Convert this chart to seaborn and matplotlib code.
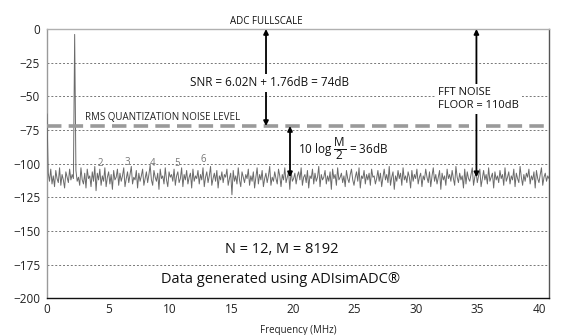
import numpy as np
import pandas as pd
import matplotlib
matplotlib.use("Agg")
import matplotlib.pyplot as plt
import seaborn as sns

# FFT output of a 12-bit ADC: one value per frequency bin (dBFS)
freq_max_mhz = 40.8
spectrum_db = [
    -63, -107, -113, -104, -115, -109, -117, -105, -111, -114, -103, -116, -108, -112, -118, -106, -110, -114, -104, -112,
    -108, -111, -4, -105, -113, -110, -116, -103, -112, -115, -107, -118, -104, -111, -109, -117, -106, -113, -102, -120,
    -107, -112, -104, -116, -109, -113, -103, -117, -110, -106, -115, -108, -119, -105, -112, -110, -104, -116, -107, -113,
    -109, -103, -117, -111, -106, -114, -108, -102, -115, -110, -112, -105, -118, -107, -113, -109, -104, -116, -111, -106,
    -114, -108, -101, -112, -116, -105, -110, -113, -107, -119, -104, -111, -109, -115, -103, -112, -117, -106, -110, -108,
    -113, -104, -116, -109, -106, -114, -111, -103, -117, -108, -112, -105, -115, -110, -107, -118, -104, -113, -109, -111,
    -105, -115, -108, -112, -103, -117, -110, -106, -114, -109, -102, -116, -111, -107, -113, -105, -118, -109, -112, -106,
    -114, -108, -110, -104, -116, -111, -107, -123, -105, -113, -109, -115, -103, -112, -117, -106, -110, -114, -108, -111,
    -104, -116, -109, -113, -106, -118, -110, -103, -115, -108, -112, -105, -117, -111, -107, -114, -109, -102, -116, -110,
    -113, -106, -111, -115, -104, -109, -117, -108, -112, -103, -114, -110, -106, -119, -105, -113, -111, -107, -115, -109,
    -106, -112, -103, -116, -110, -108, -114, -105, -118, -109, -111, -104, -115, -107, -113, -110, -102, -117, -108, -112,
    -110, -105, -115, -109, -113, -106, -119, -104, -111, -108, -116, -103, -112, -110, -107, -114, -109, -117, -105, -111,
    -114, -108, -104, -112, -116, -110, -106, -113, -103, -118, -109, -111, -105, -115, -108, -112, -107, -116, -104, -110,
    -109, -115, -111, -105, -113, -107, -117, -110, -104, -112, -108, -114, -102, -116, -110, -106, -119, -109, -113, -105,
    -111, -107, -116, -103, -112, -109, -114, -106, -110, -118, -105, -113, -108, -111, -104, -115, -110, -107, -117, -109,
    -112, -104, -110, -114, -106, -117, -109, -103, -113, -108, -115, -110, -105, -119, -107, -112, -109, -116, -104, -111,
    -108, -113, -105, -111, -116, -102, -110, -114, -107, -112, -109, -118, -104, -115, -106, -111, -113, -108, -103, -116,
    -110, -106, -114, -109, -104, -117, -111, -105, -112, -108, -115, -103, -113, -110, -107, -118, -106, -112, -109, -114,
    -105, -111, -108, -116, -103, -113, -110, -106, -115, -109, -112, -104, -117, -107, -111, -114, -102, -110, -116, -108,
    -113, -107, -110, -104, -115, -109, -112, -106, -118, -105, -111, -114, -108, -103, -116, -110, -107, -113, -109, -111,
]
bin_freq_mhz = np.linspace(0, freq_max_mhz, len(spectrum_db))

# Harmonic markers
harmonic_labels = ["2", "3", "4", "5", "6"]
harmonic_freq_mhz = [4.3, 6.5, 8.6, 10.6, 12.7]
harmonic_label_db = [-99.5, -99, -99.5, -99.5, -96.5]

# Levels used by the annotations
fullscale_db = 0
quant_noise_db = -72
fft_floor_db = -110
y_ticks = [0, -25, -50, -75, -100, -125, -150, -175, -200]
x_ticks = [0, 5, 10, 15, 20, 25, 30, 35, 40]

sns.set_style("white")
plt.rcParams["font.family"] = ["Open Sans", "DejaVu Sans"]
plt.rcParams["axes.unicode_minus"] = True
plt.rcParams["mathtext.fontset"] = "custom"
plt.rcParams["mathtext.rm"] = "Open Sans"
plt.rcParams["mathtext.it"] = "Open Sans"

fig = plt.figure(figsize=(5.8, 3.35), dpi=100)
ax = fig.add_axes([0.081, 0.109, 0.8656, 0.8044])

df = pd.DataFrame({"freq": bin_freq_mhz, "level": spectrum_db})
sns.lineplot(data=df, x="freq", y="level", ax=ax, color="#6a6a6a",
             linewidth=0.7, estimator=None, sort=False, zorder=3)

ax.set_xlim(0, freq_max_mhz)
ax.set_ylim(-200, 0)
ax.set_xticks(x_ticks)
ax.set_yticks(y_ticks)
ax.set_yticklabels([str(v).replace("-", "\u2212") for v in y_ticks])
ax.tick_params(axis="y", length=0, pad=5, labelsize=8.5, colors="#222222")
ax.tick_params(axis="x", length=2.5, width=0.6, pad=1, labelsize=8.5,
               colors="#222222", direction="out")
ax.set_xlabel("Frequency (MHz)", fontsize=7, labelpad=6, color="#222222")
ax.set_ylabel("")

# Dotted horizontal grid at the inner ticks only
for yv in y_ticks[1:-1]:
    ax.axhline(yv, color="#777777", linewidth=0.7, linestyle=(0, (2, 2)), zorder=1)

ax.spines["left"].set_color("#9a9a9a")
ax.spines["top"].set_color("#b0b0b0")
ax.spines["right"].set_color("#555555")
ax.spines["bottom"].set_color("#111111")
for s in ax.spines.values():
    s.set_linewidth(1.0)

# RMS quantisation noise level, broken where the FFT floor arrow crosses it
dash = dict(color="#9a9a9a", linewidth=2.6, linestyle=(0, (4, 2)), zorder=4)
ax.plot([0, 34.3], [quant_noise_db, quant_noise_db], **dash)
ax.plot([35.7, freq_max_mhz], [quant_noise_db, quant_noise_db], **dash)
ax.text(3.1, -66, "RMS QUANTIZATION NOISE LEVEL", fontsize=7, color="#222222",
        va="center", ha="left")

# Harmonic numbers
for lbl, fx, fy in zip(harmonic_labels, harmonic_freq_mhz, harmonic_label_db):
    ax.text(fx, fy, lbl, fontsize=7, color="#777777", ha="center", va="center", zorder=5)

arrow_kw = dict(arrowstyle="<|-|>", color="black", lw=1.3,
                mutation_scale=7, shrinkA=0, shrinkB=0)

# ADC full scale to quantisation noise: SNR
ax.text(17.8, 5.5, "ADC FULLSCALE", fontsize=7, ha="center", va="center",
        color="#111111", clip_on=False)
ax.annotate("", xy=(17.8, fullscale_db), xytext=(17.8, quant_noise_db),
            arrowprops=arrow_kw, zorder=6)
ax.text(18.1, -40, "SNR = 6.02N + 1.76dB = 74dB", fontsize=8.5, ha="center",
        va="center", color="#111111", zorder=7,
        bbox=dict(facecolor="white", edgecolor="none", pad=1.5))

# Processing gain
ax.annotate("", xy=(19.75, quant_noise_db), xytext=(19.75, fft_floor_db),
            arrowprops=arrow_kw, zorder=6)
ax.text(20.4, -89, r"10 log $\dfrac{\mathrm{M}}{2}$ = 36dB", fontsize=8.5,
        ha="left", va="center", color="#111111", zorder=7)

# FFT noise floor
ax.annotate("", xy=(34.9, fullscale_db), xytext=(34.9, fft_floor_db),
            arrowprops=arrow_kw, zorder=6)
ax.text(31.8, -52, "FFT NOISE\nFLOOR = 110dB", fontsize=8, ha="left",
        va="center", color="#111111", linespacing=1.25, zorder=7,
        bbox=dict(facecolor="white", edgecolor="none", pad=2))

ax.text(19.1, -163.5, "N = 12, M = 8192", fontsize=10.5, ha="center",
        va="center", color="#111111")
ax.text(19.0, -186, "Data generated using ADIsimADC\u00ae", fontsize=10.5,
        ha="center", va="center", color="#111111")

fig.savefig("out.png", dpi=100)
